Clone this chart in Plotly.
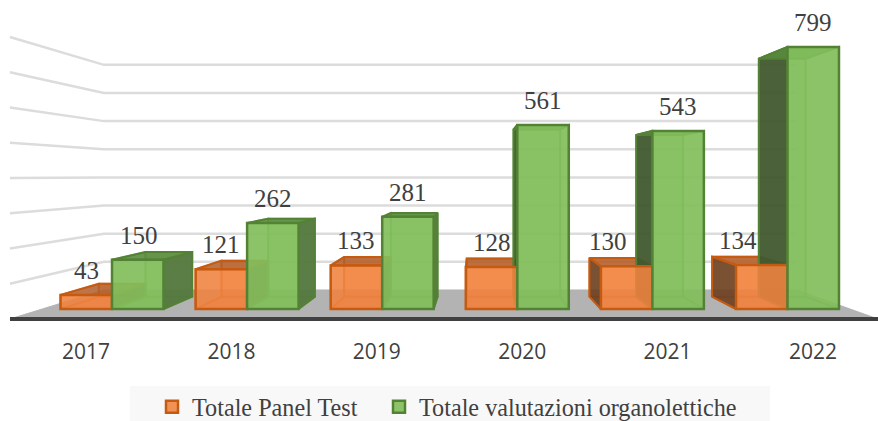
import plotly.graph_objects as go

YEARS = ["2017", "2018", "2019", "2020", "2021", "2022"]
PANEL = [43, 121, 133, 128, 130, 134]
ORGANO = [150, 262, 281, 561, 543, 799]
GRID = [100, 200, 300, 400, 500, 600, 700, 800]
NAMES = ["Totale Panel Test", "Totale valutazioni organolettiche"]

W, H = 878, 421
BASE_PX, PX_PER_UNIT = 309.0, 0.328
CAT0_PX, CAT_PX = 112.0, 135.1
XR = [-CAT0_PX / CAT_PX, (W - CAT0_PX) / CAT_PX]
YR = [-(H - BASE_PX) / PX_PER_UNIT, BASE_PX / PX_PER_UNIT]
VP_X, VP_Y = (476 - CAT0_PX) / CAT_PX, (BASE_PX - 175) / PX_PER_UNIT
DEPTH = 0.908
WALL_L, WALL_R = -0.516, 5.463
S_FRONT, S_BACK = 1.0746, 0.858
BAR_W = 0.381


def proj(x, y, s):
    return VP_X + s * (x - VP_X), VP_Y + s * (y - VP_Y)


def poly(points):
    return [p[0] for p in points] + [points[0][0]], [p[1] for p in points] + [points[0][1]]


def add_face(fig, pts, fill, line, width=2):
    xs, ys = poly(pts)
    fig.add_trace(go.Scatter(x=xs, y=ys, mode="lines", fill="toself", fillcolor=fill,
                             line=dict(color=line, width=width), hoverinfo="skip", showlegend=False))


fig = go.Figure()

# floor
add_face(fig, [proj(WALL_L, 0, S_FRONT), proj(WALL_R, 0, S_FRONT), proj(WALL_R, 0, S_BACK), proj(WALL_L, 0, S_BACK)],
         "#b3b3b3", "#b3b3b3", 1)

# walls' gridlines
for v in GRID:
    a, b, c = proj(WALL_L, v, S_FRONT), proj(WALL_L, v, S_BACK), proj(WALL_R, v, S_BACK)
    fig.add_trace(go.Scatter(x=[a[0], b[0], c[0]], y=[a[1], b[1], c[1]], mode="lines",
                             line=dict(color="#dcdcdc", width=2.5), hoverinfo="skip", showlegend=False))

STYLES = [
    dict(values=PANEL, off=-BAR_W, front="rgba(240,130,62,0.88)", edge="#c55a11", inner="rgba(197,90,17,0.55)",
         back="rgba(240,130,62,0.30)", side_l="rgba(105,62,32,0.88)", side_r="rgba(105,62,32,0.88)",
         top="rgba(178,92,40,0.85)", legend="legend"),
    dict(values=ORGANO, off=0.0, front="rgba(130,190,92,0.92)", edge="#548235", inner="rgba(84,150,50,0.55)",
         back="rgba(126,186,88,0.30)", side_l="rgba(62,86,46,0.93)", side_r="rgba(84,120,62,0.95)",
         top="rgba(88,140,60,0.90)", legend="legend2"),
]

for st in STYLES:
    for i, v in enumerate(st["values"]):
        x0, x1 = i + st["off"], i + st["off"] + BAR_W
        fbl, fbr, ftr, ftl = (x0, 0), (x1, 0), (x1, v), (x0, v)
        bbl, bbr, btr, btl = [proj(p[0], p[1], DEPTH) for p in (fbl, fbr, ftr, ftl)]
        add_face(fig, [bbl, bbr, btr, btl], st["back"], st["inner"])
        add_face(fig, [fbl, fbr, bbr, bbl], st["back"], st["inner"])
        left_out = x0 > VP_X
        right_out = x1 < VP_X
        add_face(fig, [fbl, ftl, btl, bbl], st["side_l"] if left_out else "rgba(0,0,0,0)",
                 st["edge"] if left_out else st["inner"])
        add_face(fig, [fbr, ftr, btr, bbr], st["side_r"] if right_out else "rgba(0,0,0,0)",
                 st["edge"] if right_out else st["inner"])
        add_face(fig, [ftl, ftr, btr, btl], st["top"], st["edge"])

# front faces, on an overlaid y axis so that they cover the side faces
for st, name in zip(STYLES, NAMES):
    fig.add_trace(go.Bar(x=list(range(len(YEARS))), y=st["values"], name=name, width=BAR_W, offset=st["off"],
                         marker=dict(color=st["front"], line=dict(color=st["edge"], width=2.5)),
                         yaxis="y2", hoverinfo="skip", legend=st["legend"], showlegend=True))

# carrier of the category axis
fig.add_trace(go.Scatter(x=list(range(len(YEARS))), y=[0] * len(YEARS), xaxis="x2", mode="markers",
                         marker=dict(opacity=0), hoverinfo="skip", showlegend=False))

LABEL_SHIFT = {(0, 4): -19, (0, 5): -24, (1, 0): 1}
for s, st in enumerate(STYLES):
    for i, v in enumerate(st["values"]):
        fig.add_annotation(x=i + st["off"] + BAR_W / 2, y=v, yref="y2", text=str(v), showarrow=False,
                           xanchor="center", yanchor="middle", yshift=24.5,
                           xshift=LABEL_SHIFT.get((s, i), 0),
                           font=dict(family="Liberation Serif", size=25, color="#404040"))

L_PX = 10
LEG_FONT = dict(family="Liberation Serif", size=24.2, color="#404040")
fig.update_layout(
    width=W, height=H, margin=dict(l=0, r=0, t=0, b=0, autoexpand=False), autosize=False,
    paper_bgcolor="white", plot_bgcolor="rgba(0,0,0,0)", barmode="overlay",
    xaxis=dict(range=XR, visible=False, fixedrange=True),
    yaxis=dict(range=YR, visible=False, fixedrange=True),
    yaxis2=dict(range=YR, visible=False, overlaying="y", fixedrange=True),
    xaxis2=dict(domain=[L_PX / W, 1], anchor="free", position=(H - 319) / H, side="bottom",
                range=[(L_PX - 86) / 145.4, (W - 86) / 145.4], tickmode="array",
                tickvals=list(range(len(YEARS))), ticktext=YEARS, showgrid=False, zeroline=False,
                showline=True, linecolor="#404040", linewidth=3.5, ticks="outside", ticklen=13,
                tickcolor="rgba(0,0,0,0)", tickfont=dict(family="Open Sans", size=21, color="#404040"),
                fixedrange=True),
    legend=dict(x=160 / W, xanchor="left", y=(H - 407) / H, yanchor="middle", indentation=-8,
                bgcolor="rgba(0,0,0,0)", font=LEG_FONT),
    legend2=dict(x=387 / W, xanchor="left", y=(H - 407) / H, yanchor="middle", indentation=-8,
                 bgcolor="rgba(0,0,0,0)", font=LEG_FONT),
    shapes=[dict(type="rect", xref="paper", yref="paper", x0=130 / W, x1=770 / W, y0=0, y1=35 / H,
                 fillcolor="#f8f8f8", line=dict(width=0), layer="below")],
)

fig.write_html("out.html", config={"displayModeBar": False},
               post_script="document.body.style.margin='0';")
